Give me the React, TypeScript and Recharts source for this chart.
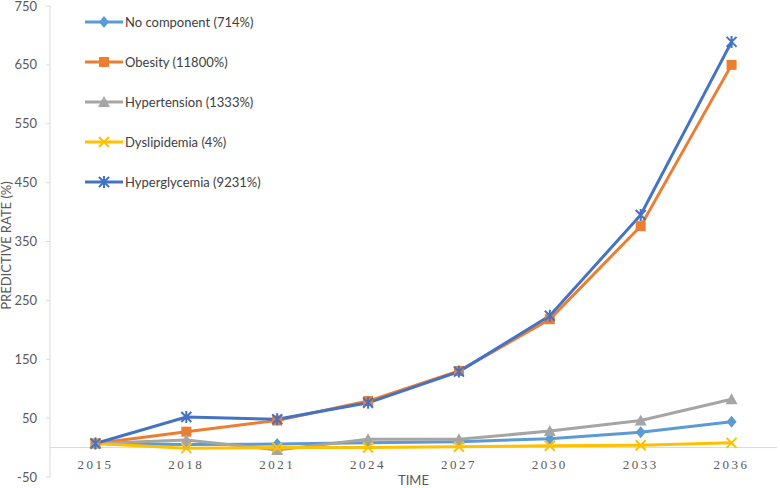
import { LineChart, Line, XAxis, YAxis, Legend, ReferenceLine } from 'recharts';

const years = ['2015', '2018', '2021', '2024', '2027', '2030', '2033', '2036'];
const noComponent = [7, 5, 6, 8, 10, 15, 26, 44];
const obesity = [7, 27, 46, 79, 130, 218, 376, 650];
const hypertension = [7, 13, -4, 14, 14, 28, 46, 82];
const dyslipidemia = [7, -1, 0, 0, 1.5, 3, 4, 8];
const hyperglycemia = [7, 52, 48, 76, 129, 224, 395, 689];
const yTicks = [-50, 50, 150, 250, 350, 450, 550, 650, 750];

const data = years.map((year, i) => ({
  year,
  noComponent: noComponent[i],
  obesity: obesity[i],
  hypertension: hypertension[i],
  dyslipidemia: dyslipidemia[i],
  hyperglycemia: hyperglycemia[i],
}));

type Shape = 'diamond' | 'square' | 'triangle' | 'x' | 'star';

const series: { key: string; name: string; color: string; shape: Shape }[] = [
  { key: 'noComponent', name: 'No component (714%)', color: '#5B9BD5', shape: 'diamond' },
  { key: 'obesity', name: 'Obesity (11800%)', color: '#ED7D31', shape: 'square' },
  { key: 'hypertension', name: 'Hypertension (1333%)', color: '#A5A5A5', shape: 'triangle' },
  { key: 'dyslipidemia', name: 'Dyslipidemia (4%)', color: '#FFC000', shape: 'x' },
  { key: 'hyperglycemia', name: 'Hyperglycemia (9231%)', color: '#4472C4', shape: 'star' },
];

function Marker({ cx, cy, shape, color }: { cx: number; cy: number; shape: Shape; color: string }) {
  const s = 5;
  switch (shape) {
    case 'diamond':
      return <path d={`M${cx},${cy - s - 1}L${cx + s},${cy}L${cx},${cy + s + 1}L${cx - s},${cy}Z`} fill={color} />;
    case 'square':
      return <rect x={cx - s} y={cy - s} width={2 * s} height={2 * s} fill={color} />;
    case 'triangle':
      return <path d={`M${cx},${cy - s - 1}L${cx + s + 1},${cy + s}L${cx - s - 1},${cy + s}Z`} fill={color} />;
    case 'x':
      return (
        <path d={`M${cx - s},${cy - s}L${cx + s},${cy + s}M${cx + s},${cy - s}L${cx - s},${cy + s}`} stroke={color} strokeWidth={2} />
      );
    default:
      return (
        <path
          d={`M${cx - s},${cy - s}L${cx + s},${cy + s}M${cx + s},${cy - s}L${cx - s},${cy + s}M${cx},${cy - s - 1}L${cx},${cy + s + 1}`}
          stroke={color}
          strokeWidth={2}
        />
      );
  }
}

function makeDot(shape: Shape, color: string) {
  return (props: any) => {
    const { cx, cy, index } = props;
    if (cx == null || cy == null) return <g key={`d-${index}`} />;
    return (
      <g key={`d-${shape}-${index}`}>
        <Marker cx={cx} cy={cy} shape={shape} color={color} />
      </g>
    );
  };
}

function XTick(props: any) {
  const { x, y, payload } = props;
  return (
    <text
      x={x}
      y={y - 8}
      textAnchor="middle"
      fill="#595959"
      fontSize={13}
      fontFamily="Liberation Serif"
      letterSpacing={2.5}
    >
      {payload.value}
    </text>
  );
}

function YLabel(props: any) {
  const { viewBox } = props;
  const cy = viewBox.y + viewBox.height / 2 + 4;
  return (
    <text
      x={11}
      y={cy}
      transform={`rotate(-90, 11, ${cy})`}
      textAnchor="middle"
      fill="#595959"
      fontSize={13}
      fontFamily="Lato"
    >
      PREDICTIVE RATE (%)
    </text>
  );
}

function LegendBox() {
  return (
    <div style={{ fontFamily: 'Lato', fontSize: 13, color: '#404040' }}>
      {series.map((s) => (
        <div key={s.key} style={{ display: 'flex', alignItems: 'center', height: 40 }}>
          <svg width={38} height={14} style={{ marginRight: 2 }}>
            <line x1={0} y1={7} x2={38} y2={7} stroke={s.color} strokeWidth={3} />
            <Marker cx={19} cy={7} shape={s.shape} color={s.color} />
          </svg>
          <span>{s.name}</span>
        </div>
      ))}
    </div>
  );
}

export default function App() {
  return (
    <div style={{ position: 'absolute', left: 0, top: 0, background: '#fff' }}>
      <LineChart width={780} height={488} data={data} margin={{ top: 6, right: 3, bottom: 10, left: 0 }}>
        <XAxis
          dataKey="year"
          scale="band"
          height={1}
          axisLine={false}
          tickLine={false}
          tickSize={0}
          tickMargin={0}
          tick={XTick}
          interval={0}
          label={{ value: 'TIME', position: 'bottom', offset: -2, fill: '#595959', fontSize: 13, fontFamily: 'Lato' }}
        />
        <YAxis
          width={50}
          domain={[-50, 750]}
          ticks={yTicks}
          interval={0}
          axisLine={{ stroke: '#d9d9d9' }}
          tickLine={{ stroke: '#d9d9d9' }}
          tickSize={4}
          tickMargin={9}
          tick={{ fill: '#595959', fontSize: 13, fontFamily: 'Lato' }}
          label={<YLabel />}
        />
        <ReferenceLine y={0} stroke="#d9d9d9" strokeWidth={1} />
        <Legend
          layout="vertical"
          verticalAlign="middle"
          align="center"
          content={<LegendBox />}
          wrapperStyle={{ left: 85, top: 2, width: 220 }}
        />
        {series.map((s) => (
          <Line
            key={s.key}
            dataKey={s.key}
            name={s.name}
            stroke={s.color}
            strokeWidth={3}
            dot={makeDot(s.shape, s.color)}
            activeDot={false}
            isAnimationActive={false}
          />
        ))}
      </LineChart>
    </div>
  );
}
